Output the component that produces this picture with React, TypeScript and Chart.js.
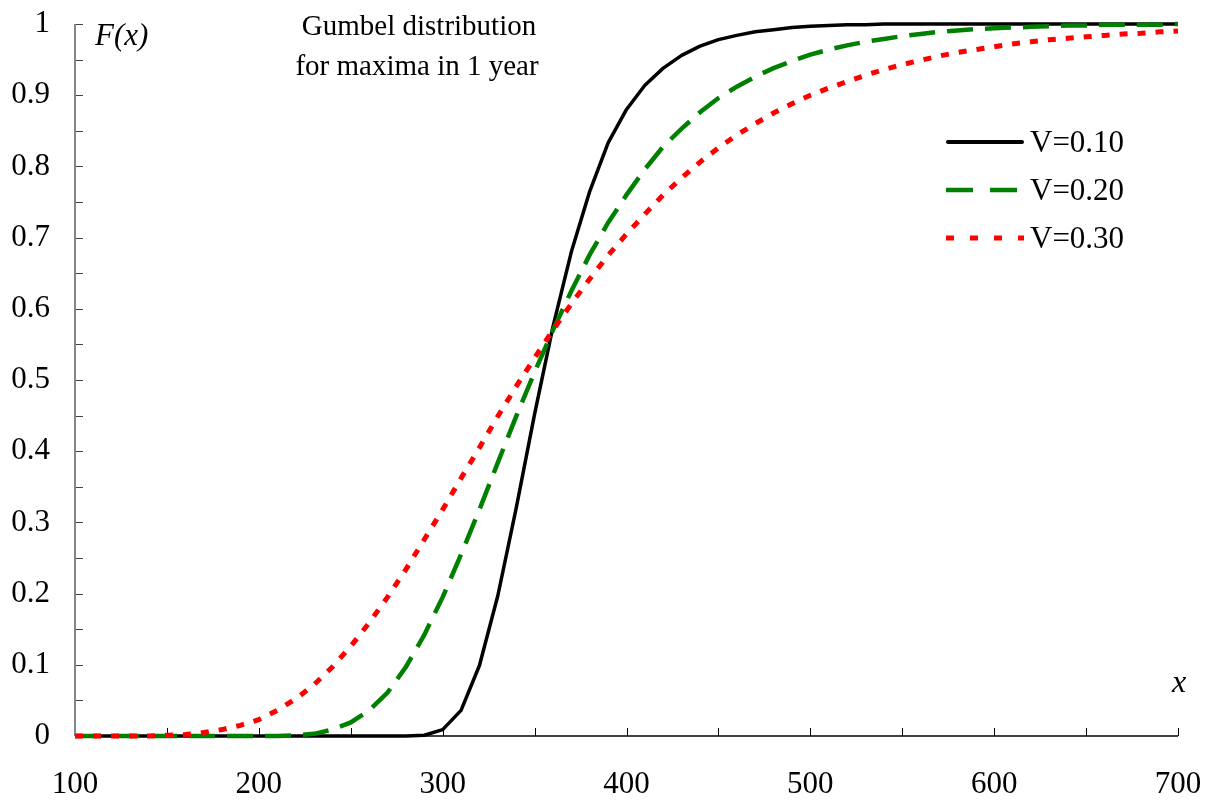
import React, { useEffect, useRef } from "react";
import { Chart, registerables } from "chart.js";

Chart.register(...registerables);

// ---- data ----
const xValues = [
  100, 110, 120, 130, 140, 150, 160, 170, 180, 190,
  200, 210, 220, 230, 240, 250, 260, 270, 280, 290,
  300, 310, 320, 330, 340, 350, 360, 370, 380, 390,
  400, 410, 420, 430, 440, 450, 460, 470, 480, 490,
  500, 510, 520, 530, 540, 550, 560, 570, 580, 590,
  600, 610, 620, 630, 640, 650, 660, 670, 680, 690,
  700,
];

const seriesV10 = [
  0, 0, 0, 0, 0, 0, 0, 0, 0, 0,
  0, 0, 0, 0, 0, 0, 0, 0, 0, 0.001,
  0.009, 0.036, 0.099, 0.197, 0.32, 0.452, 0.575, 0.68, 0.765, 0.833,
  0.88, 0.914, 0.938, 0.956, 0.969, 0.978, 0.984, 0.989, 0.992, 0.995,
  0.997, 0.998, 0.999, 0.999, 1, 1, 1, 1, 1, 1,
  1, 1, 1, 1, 1, 1, 1, 1, 1, 1,
  1,
];

const seriesV20 = [
  0, 0, 0, 0, 0, 0, 0, 0, 0, 0,
  0, 0, 0.001, 0.003, 0.009, 0.019, 0.036, 0.061, 0.097, 0.142,
  0.195, 0.255, 0.318, 0.384, 0.449, 0.511, 0.57, 0.625, 0.676, 0.721,
  0.76, 0.796, 0.828, 0.853, 0.876, 0.896, 0.912, 0.926, 0.938, 0.948,
  0.957, 0.964, 0.97, 0.975, 0.979, 0.983, 0.986, 0.989, 0.991, 0.993,
  0.994, 0.995, 0.996, 0.997, 0.998, 0.998, 0.999, 0.999, 0.999, 0.999,
  1,
];

const seriesV30 = [
  0, 0, 0, 0, 0, 0.001, 0.002, 0.005, 0.009, 0.015,
  0.023, 0.036, 0.052, 0.072, 0.097, 0.126, 0.159, 0.195, 0.234, 0.276,
  0.318, 0.362, 0.405, 0.449, 0.491, 0.531, 0.57, 0.607, 0.642, 0.675,
  0.705, 0.733, 0.76, 0.784, 0.806, 0.826, 0.844, 0.86, 0.875, 0.888,
  0.9, 0.91, 0.919, 0.928, 0.936, 0.943, 0.949, 0.955, 0.96, 0.964,
  0.968, 0.972, 0.975, 0.978, 0.98, 0.982, 0.984, 0.986, 0.987, 0.989,
  0.99,
];

const seriesLabels = ["V=0.10", "V=0.20", "V=0.30"];
const seriesColors = ["#000000", "#008000", "#ff0000"];
const titleLines = ["Gumbel distribution", "for maxima in 1 year"];
const yAxisTitle = "F(x)";
const xAxisTitle = "x";

const SERIF = "'Liberation Serif', 'Times New Roman', serif";

const customAxes = {
  id: "customAxes",
  beforeDatasetsDraw(chart: any) {
    const { ctx, chartArea: a, scales } = chart;
    const xs = scales.x;
    const ys = scales.y;
    ctx.save();
    // y tick marks
    ctx.strokeStyle = "#404040";
    ctx.lineWidth = 1;
    ys.ticks.forEach((t: any) => {
      const y = Math.round(ys.getPixelForValue(t.value)) + 0.5;
      ctx.beginPath();
      ctx.moveTo(a.left, y);
      ctx.lineTo(a.left + 8, y);
      ctx.stroke();
    });
    // x tick marks
    ctx.strokeStyle = "#000000";
    xs.ticks.forEach((t: any) => {
      const x = Math.round(xs.getPixelForValue(t.value)) + 0.5;
      ctx.beginPath();
      ctx.moveTo(x, a.bottom);
      ctx.lineTo(x, a.bottom - 8);
      ctx.stroke();
    });
    // y axis line
    ctx.strokeStyle = "#868686";
    ctx.lineWidth = 2;
    ctx.beginPath();
    ctx.moveTo(a.left, a.top);
    ctx.lineTo(a.left, a.bottom);
    ctx.stroke();
    // x axis line
    ctx.strokeStyle = "#000000";
    ctx.lineWidth = 1.5;
    ctx.beginPath();
    ctx.moveTo(a.left, a.bottom);
    ctx.lineTo(a.right, a.bottom);
    ctx.stroke();
    ctx.restore();
  },
};

const annotations = {
  id: "annotations",
  afterDraw(chart: any) {
    const { ctx } = chart;
    ctx.save();
    ctx.fillStyle = "#000000";
    // title
    ctx.font = `29px ${SERIF}`;
    ctx.textAlign = "center";
    ctx.textBaseline = "alphabetic";
    ctx.fillText(titleLines[0], 419, 35);
    ctx.fillText(titleLines[1], 417, 75);
    // axis titles
    ctx.textAlign = "left";
    ctx.font = `italic 31px ${SERIF}`;
    ctx.fillText(yAxisTitle, 95, 45);
    ctx.font = `italic 32px ${SERIF}`;
    ctx.fillText(xAxisTitle, 1172, 692);
    // legend
    const ys = [142, 190, 238];
    const dashes = [[], [27, 17], [8, 16]];
    const widths = [4, 4.5, 5];
    const caps = ["round", "butt", "butt"];
    chart.data.datasets.forEach((ds: any, i: number) => {
      ctx.save();
      ctx.strokeStyle = ds.borderColor;
      ctx.lineWidth = widths[i];
      ctx.lineCap = caps[i];
      ctx.setLineDash(dashes[i]);
      ctx.beginPath();
      const x0 = i === 0 ? 948 : 946;
      const x1 = i === 0 ? 1022 : 1024;
      ctx.moveTo(x0, ys[i]);
      ctx.lineTo(x1, ys[i]);
      ctx.stroke();
      ctx.restore();
      ctx.font = `31px ${SERIF}`;
      ctx.textAlign = "left";
      ctx.textBaseline = "alphabetic";
      ctx.fillStyle = "#000000";
      ctx.fillText(ds.label, 1030, ys[i] + 10);
    });
    ctx.restore();
  },
};

export default function App() {
  const canvasRef = useRef<HTMLCanvasElement | null>(null);

  useEffect(() => {
    document.body.style.margin = "0";
    const canvas = canvasRef.current;
    if (!canvas) return;
    const mk = (vals: number[]) => xValues.map((x, i) => ({ x, y: vals[i] }));
    const hiddenGrid = (len: number) => ({
      display: true,
      drawOnChartArea: false,
      drawTicks: true,
      tickLength: len,
      color: "rgba(0,0,0,0)",
    });
    const chart = new Chart(canvas, {
      type: "line",
      data: {
        datasets: [
          {
            label: seriesLabels[0],
            data: mk(seriesV10),
            borderColor: seriesColors[0],
            borderWidth: 3.5,
            pointRadius: 0,
            tension: 0,
            clip: false,
            order: 3,
            borderJoinStyle: "round",
          },
          {
            label: seriesLabels[1],
            data: mk(seriesV20),
            borderColor: seriesColors[1],
            borderWidth: 4.5,
            borderDash: [26, 12],
            pointRadius: 0,
            tension: 0,
            clip: false,
            order: 2,
          },
          {
            label: seriesLabels[2],
            data: mk(seriesV30),
            borderColor: seriesColors[2],
            borderWidth: 5,
            borderDash: [8, 10],
            pointRadius: 0,
            tension: 0,
            clip: false,
            order: 1,
          },
        ],
      } as any,
      options: {
        animation: false,
        responsive: false,
        layout: { padding: { top: 24, right: 32, left: 0, bottom: 0 } },
        plugins: {
          legend: { display: false },
          title: { display: false },
          tooltip: { enabled: false },
        },
        scales: {
          x: {
            type: "linear",
            min: 100,
            max: 700,
            grid: hiddenGrid(30),
            border: { display: false },
            afterFit: (s: any) => {
              s.height = 64;
            },
            ticks: {
              stepSize: 50,
              autoSkip: false,
              maxRotation: 0,
              padding: 0,
              color: "#000000",
              font: { family: SERIF, size: 31 },
              callback: (v: any) => (Math.round(v) % 100 === 0 ? String(Math.round(v)) : ""),
            },
          },
          y: {
            type: "linear",
            min: 0,
            max: 1,
            grid: hiddenGrid(25),
            border: { display: false },
            afterFit: (s: any) => {
              s.width = 75;
            },
            ticks: {
              stepSize: 0.05,
              autoSkip: false,
              padding: 0,
              color: "#000000",
              font: { family: SERIF, size: 31 },
              callback: (v: any) => {
                const r = Math.round(Number(v) * 100);
                if (r % 10 !== 0) return "";
                return String(r / 100);
              },
            },
          },
        },
      } as any,
      plugins: [customAxes, annotations],
    });
    return () => chart.destroy();
  }, []);

  return (
    <div style={{ width: 1210, height: 800 }}>
      <canvas ref={canvasRef} width={1210} height={800} style={{ display: "block" }} />
    </div>
  );
}
